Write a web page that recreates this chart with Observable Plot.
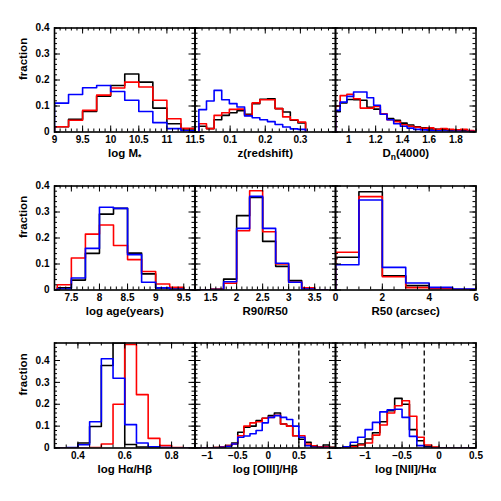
<!DOCTYPE html>
<html><head><meta charset="utf-8">
<script src="https://cdn.jsdelivr.net/npm/d3@7"></script>
<script src="https://cdn.jsdelivr.net/npm/@observablehq/plot@0.6"></script>
<style>
body{margin:0;background:#fff}
#chart{position:relative;width:501px;height:501px;background:#fff}
#chart svg{position:absolute;left:0;top:0}
</style>
</head><body><div id="chart"></div>
<script>
// ---------- data (fractions per bin) ----------
// Panel 1: log M*   bins start 9.0, width 0.25
const mass_bin = [9.0, 0.25];
const mass_black = [0.020, 0.049, 0.079, 0.138, 0.179, 0.223, 0.192, 0.092, 0.032, 0.012];
const mass_red   = [0.020, 0.045, 0.083, 0.142, 0.169, 0.192, 0.173, 0.122, 0.051, 0.014];
const mass_blue  = [0.111, 0.144, 0.170, 0.179, 0.156, 0.122, 0.079, 0.036, 0.013, 0.005];
// Panel 2: redshift
const z_bin = [0.011, 0.0217];
const z_black = [0.022, 0.013, 0.047, 0.064, 0.074, 0.082, 0.068, 0.109, 0.126, 0.128, 0.090, 0.077, 0.045, 0.035];
const z_red   = [0.032, 0.013, 0.064, 0.074, 0.087, 0.088, 0.064, 0.112, 0.124, 0.124, 0.090, 0.058, 0.047, 0.038];
const z_blue  = [0.086, 0.119, 0.160, 0.124, 0.109, 0.096, 0.062, 0.055, 0.047, 0.040, 0.029, 0.019, 0.012, 0.010];
// Panel 3: Dn(4000)
const dn_bin = [0.885, 0.05];
const dn_black = [0.078, 0.112, 0.125, 0.124, 0.122, 0.095, 0.088, 0.068, 0.052, 0.045, 0.034, 0.027, 0.020, 0.016, 0.012, 0.010, 0.008, 0.007, 0.006, 0.005, 0.004];
const dn_red   = [0.100, 0.140, 0.145, 0.128, 0.092, 0.092, 0.098, 0.070, 0.047, 0.040, 0.028, 0.022, 0.018, 0.014, 0.016, 0.010, 0.013, 0.010, 0.008, 0.010, 0.006];
const dn_blue  = [0.083, 0.115, 0.137, 0.154, 0.154, 0.132, 0.103, 0.068, 0.047, 0.032, 0.022, 0.015, 0.010, 0.008, 0.006, 0.005, 0.004, 0.003, 0.003, 0.002, 0.002];
// Panel 4: log age
const age_bin = [7.25, 0.25];
const age_black = [0.008, 0.038, 0.141, 0.292, 0.314, 0.142, 0.062, 0.008, 0.004, 0.001];
const age_red   = [0.020, 0.123, 0.215, 0.250, 0.171, 0.117, 0.071, 0.023, 0.010, 0.000];
const age_blue  = [0.004, 0.046, 0.160, 0.318, 0.314, 0.136, 0.030, 0.008, 0.003, 0.001];
// Panel 5: R90/R50
const conc_bin = [1.25, 0.25];
const conc_black = [0.000, 0.003, 0.042, 0.286, 0.356, 0.187, 0.091, 0.036, 0.004, 0.001];
const conc_red   = [0.000, 0.003, 0.026, 0.228, 0.382, 0.224, 0.100, 0.030, 0.008, 0.001];
const conc_blue  = [0.000, 0.002, 0.032, 0.237, 0.360, 0.237, 0.103, 0.030, 0.004, 0.001];
// Panel 6: R50 (arcsec)
const r50_bin = [0, 1];
const r50_black = [0.126, 0.378, 0.055, 0.017, 0.006, 0.002];
const r50_red   = [0.145, 0.359, 0.051, 0.009, 0.005, 0.002];
const r50_blue  = [0.097, 0.346, 0.087, 0.027, 0.010, 0.004];
// Panel 7: log Halpha/Hbeta
const balmer_bin = [0.3, 0.05];
const balmer_black = [0, 0.001, 0.023, 0.098, 0.377, 0.500, 0.016, 0.004, 0.001, 0, 0, 0];
const balmer_red   = [0, 0, 0, 0.002, 0.018, 0.200, 0.473, 0.244, 0.044, 0.011, 0.002, 0];
const balmer_blue  = [0, 0.002, 0.015, 0.120, 0.408, 0.319, 0.107, 0.023, 0.006, 0.002, 0, 0];
// Panel 8: log [OIII]/Hbeta
const oiii_bin = [-1.2, 0.1];
const oiii_black = [0, 0, 0.001, 0.002, 0.004, 0.011, 0.023, 0.072, 0.095, 0.100, 0.125, 0.136, 0.148, 0.160, 0.110, 0.100, 0.056, 0.040, 0.026, 0.006, 0.004, 0.014, 0.003];
const oiii_red   = [0, 0, 0.001, 0.002, 0.004, 0.011, 0.018, 0.056, 0.100, 0.115, 0.120, 0.136, 0.140, 0.150, 0.110, 0.100, 0.056, 0.056, 0.018, 0.010, 0.004, 0.005, 0.002];
const oiii_blue  = [0, 0, 0, 0.001, 0.003, 0.008, 0.018, 0.049, 0.055, 0.065, 0.080, 0.115, 0.140, 0.148, 0.140, 0.130, 0.100, 0.049, 0.010, 0.003, 0.002, 0.002, 0.001];
const oiii_cut = 0.5;
// Panel 9: log [NII]/Halpha
const nii_bin = [-1.4, 0.1];
const nii_black = [0, 0.003, 0.011, 0.018, 0.041, 0.070, 0.120, 0.170, 0.227, 0.200, 0.084, 0.033, 0.008, 0.002, 0, 0, 0, 0, 0];
const nii_red   = [0, 0.002, 0.005, 0.014, 0.023, 0.059, 0.105, 0.160, 0.193, 0.216, 0.145, 0.049, 0.014, 0.004, 0, 0, 0, 0, 0];
const nii_blue  = [0.001, 0.006, 0.026, 0.049, 0.084, 0.117, 0.165, 0.175, 0.177, 0.140, 0.053, 0.011, 0.002, 0, 0, 0, 0, 0, 0];
const nii_cut = -0.2;

// tick labels
const mass_ticks = ["9", "9.5", "10", "10.5", "11", "11.5"];
const z_ticks = ["0.1", "0.2", "0.3"];
const dn_ticks = ["1", "1.2", "1.4", "1.6", "1.8"];
const age_ticks = ["7.5", "8", "8.5", "9", "9.5"];
const conc_ticks = ["1.5", "2", "2.5", "3", "3.5"];
const r50_ticks = ["0", "2", "4", "6"];
const balmer_ticks = ["0.4", "0.6", "0.8"];
const oiii_ticks = ["−1", "−0.5", "0", "0.5", "1"];
const nii_ticks = ["−1", "−0.5", "0", "0.5"];
const frac_ticks = ["0", "0.1", "0.2", "0.3", "0.4"];

const seriesColors = ["#000000", "#ff0000", "#0000ff"];

// ---------- layout ----------
const W = 501, H = 501;
const colEdges = [54, 194.5, 335, 475.5];
const rowEdges = [[27.5, 131.5], [185.5, 289.5], [342.5, 447.5]];

const panels = [
  {row:0, col:0, xd:[9, 11.5], yd:[0,0.4], bin:mass_bin, s:[mass_black, mass_red, mass_blue], maj:0.5, min:0.1, tl:mass_ticks, label:"log M_{*}"},
  {row:0, col:1, xd:[0, 0.4], yd:[0,0.4], bin:z_bin, s:[z_black, z_red, z_blue], maj:0.1, min:0.02, tl:z_ticks, label:"z(redshift)"},
  {row:0, col:2, xd:[0.9, 1.95], yd:[0,0.4], bin:dn_bin, s:[dn_black, dn_red, dn_blue], maj:0.2, min:0.05, tl:dn_ticks, label:"D_{n}(4000)"},
  {row:1, col:0, xd:[7.2, 9.7], yd:[0,0.4], bin:age_bin, s:[age_black, age_red, age_blue], maj:0.5, min:0.1, tl:age_ticks, label:"log age(years)"},
  {row:1, col:1, xd:[1.2, 3.9], yd:[0,0.4], bin:conc_bin, s:[conc_black, conc_red, conc_blue], maj:0.5, min:0.1, tl:conc_ticks, label:"R90/R50"},
  {row:1, col:2, xd:[0, 6], yd:[0,0.4], bin:r50_bin, s:[r50_black, r50_red, r50_blue], maj:2, min:0.5, tl:r50_ticks, label:"R50 (arcsec)"},
  {row:2, col:0, xd:[0.3, 0.9], yd:[0,0.48], bin:balmer_bin, s:[balmer_black, balmer_red, balmer_blue], maj:0.2, min:0.05, tl:balmer_ticks, label:"log Hα/Hβ"},
  {row:2, col:1, xd:[-1.2, 1.1], yd:[0,0.48], bin:oiii_bin, s:[oiii_black, oiii_red, oiii_blue], maj:0.5, min:0.1, tl:oiii_ticks, label:"log [OIII]/Hβ", cut:oiii_cut},
  {row:2, col:2, xd:[-1.4, 0.5], yd:[0,0.48], bin:nii_bin, s:[nii_black, nii_red, nii_blue], maj:0.5, min:0.1, tl:nii_ticks, label:"log [NII]/Hα", cut:nii_cut}
];

function tickVals(d, step) {
  const k0 = Math.ceil(d[0] / step - 1e-9), k1 = Math.floor(d[1] / step + 1e-9);
  return d3.range(k0, k1 + 1).map(k => +(k * step).toFixed(6));
}
function stepPoints(bin, vals, xd, yd) {
  const [start, w] = bin;
  const cx = x => Math.max(xd[0], Math.min(xd[1], x));
  const cy = y => Math.min(yd[1], y);
  const pts = [{x: cx(start), y: 0}];
  vals.forEach((v, i) => pts.push({x: cx(start + i * w), y: cy(v)}));
  pts.push({x: cx(start + vals.length * w), y: 0});
  return pts;
}
const num = s => +s.replace("−", "-");

const font = "'Liberation Sans', Arial, Helvetica, sans-serif";
const chart = document.getElementById("chart");

for (const p of panels) {
  const x0 = colEdges[p.col], x1 = colEdges[p.col + 1];
  const [y0, y1] = rowEdges[p.row];
  const pw = x1 - x0, ph = y1 - y0;
  const majL = 6, minL = 3;
  const xMin = tickVals(p.xd, p.min), xMaj = tickVals(p.xd, p.maj);
  const yMin = tickVals(p.yd, 0.02), yMaj = tickVals(p.yd, 0.1);
  const marks = [];
  if (p.cut !== undefined) marks.push(Plot.ruleX([p.cut], {stroke: "black", strokeWidth: 1.3, strokeDasharray: "5,3"}));
  p.s.forEach((vals, i) => {
    marks.push(Plot.line(stepPoints(p.bin, vals, p.xd, p.yd), {x: "x", y: "y", curve: "step-after", stroke: seriesColors[i], strokeWidth: 1.6, clip: true}));
  });
  // ticks (inward, all four sides)
  marks.push(
    Plot.ruleX(xMin, {insetTop: ph - minL, stroke: "black", strokeWidth: 1}),
    Plot.ruleX(xMin, {insetBottom: ph - minL, stroke: "black", strokeWidth: 1}),
    Plot.ruleX(xMaj, {insetTop: ph - majL, stroke: "black", strokeWidth: 1}),
    Plot.ruleX(xMaj, {insetBottom: ph - majL, stroke: "black", strokeWidth: 1}),
    Plot.ruleY(yMin, {insetRight: pw - minL, stroke: "black", strokeWidth: 1}),
    Plot.ruleY(yMin, {insetLeft: pw - minL, stroke: "black", strokeWidth: 1}),
    Plot.ruleY(yMaj, {insetRight: pw - majL, stroke: "black", strokeWidth: 1}),
    Plot.ruleY(yMaj, {insetLeft: pw - majL, stroke: "black", strokeWidth: 1}),
    Plot.frame({stroke: "black", strokeWidth: 1.6})
  );
  // x tick labels
  marks.push(Plot.text(p.tl, {x: num, text: d => d, frameAnchor: "bottom", lineAnchor: "top", dy: 4, fontSize: 10, fontWeight: "bold"}));
  // x title
  marks.push(Plot.text([p.label], {text: d => d, frameAnchor: "bottom", lineAnchor: "middle", dy: 21, fontSize: 11.5, fontWeight: "bold"}));
  if (p.col === 0) {
    marks.push(Plot.text(frac_ticks, {y: num, text: d => d, frameAnchor: "left", textAnchor: "end", dx: -5, fontSize: 10, fontWeight: "bold"}));
    marks.push(Plot.text(["fraction"], {text: d => d, frameAnchor: "left", rotate: -90, dx: -31, fontSize: 11.5, fontWeight: "bold"}));
  }
  const svg = Plot.plot({
    width: W, height: H,
    marginLeft: x0, marginRight: W - x1, marginTop: y0, marginBottom: H - y1,
    x: {domain: p.xd, axis: null},
    y: {domain: p.yd, axis: null},
    style: {background: "transparent", overflow: "visible", fontFamily: font, color: "black"},
    marks
  });
  // subscripts in titles
  svg.querySelectorAll("text").forEach(t => {
    const s = t.textContent;
    const m = s.match(/^(.*)_\{(.*)\}(.*)$/);
    if (!m) return;
    t.textContent = "";
    const ns = "http://www.w3.org/2000/svg";
    const a = document.createElementNS(ns, "tspan"); a.textContent = m[1];
    const b = document.createElementNS(ns, "tspan"); b.textContent = m[2]; b.setAttribute("dy", "3"); b.setAttribute("font-size", "8.5");
    t.appendChild(a); t.appendChild(b);
    if (m[3]) { const c = document.createElementNS(ns, "tspan"); c.textContent = m[3]; c.setAttribute("dy", "-3"); t.appendChild(c); }
  });
  chart.appendChild(svg);
}
</script>
</body></html>
